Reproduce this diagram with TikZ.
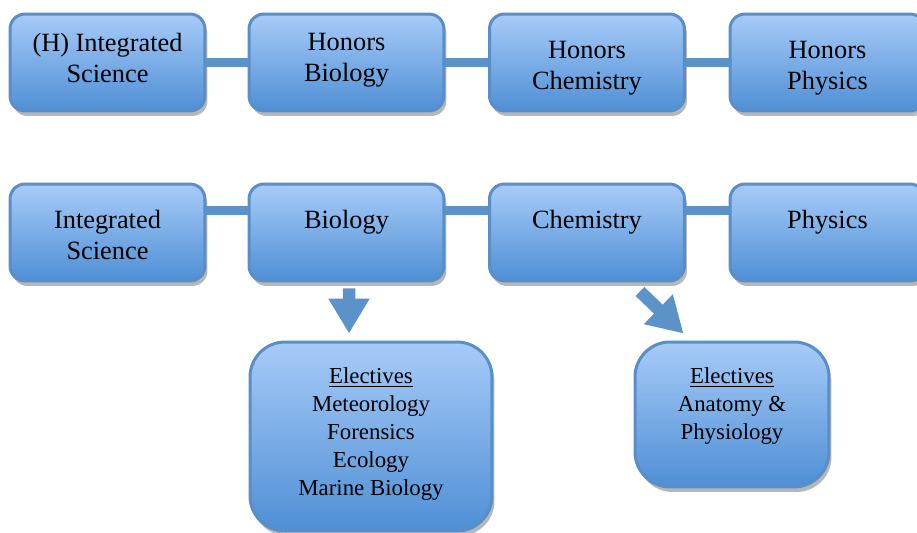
\documentclass[tikz,border=0pt]{standalone}
\usepackage{fontspec}
\setmainfont{Liberation Serif}
\usetikzlibrary{positioning,arrows.meta,shadows}

\definecolor{boxtop}{HTML}{A7CBF8}
\definecolor{boxbot}{HTML}{4F8FD5}
\definecolor{boxline}{HTML}{5A8EC6}
\definecolor{linkblue}{HTML}{5B93C8}

\tikzset{
  course/.style={rectangle, rounded corners=0.3cm, draw=boxline, line width=0.06cm,
    top color=boxtop, bottom color=boxbot, minimum width=3.9cm, minimum height=1.94cm,
    drop shadow={shadow xshift=0.05cm, shadow yshift=-0.1cm, opacity=0.4, fill=black!70}},
  elective/.style={course, rounded corners=0.7cm},
  coursetext/.style={inner sep=0pt, align=center, font=\fontsize{15}{17.6}\selectfont},
  electext/.style={inner sep=0pt, align=center, font=\fontsize{13}{15.9}\selectfont},
  link/.style={draw=linkblue, line width=0.17cm},
  blockarrow/.style={draw=linkblue, line width=0.25cm, -{Triangle[width=0.78cm,length=0.7cm]}}
}

\begin{document}
\begin{tikzpicture}[x=0.02cm, y=-0.02cm]
\def\xa{107.5};
\def\xb{346.5};
\def\xc{587};
\def\xd{827.5};

\def\ytop{62.5};
\def\ymid{232.5};

\useasboundingbox (0,0) rectangle (917,533);

% honors track
\node[course] (hints) at (\xa, \ytop) {};
\node[course] (hbio) at (\xb, \ytop) {};
\node[course] (hchem) at (\xc, \ytop) {};
\node[course] (hphys) at (\xd, \ytop) {};

\draw[link] (hints.east) -- (hbio.west);
\draw[link] (hbio.east) -- (hchem.west);
\draw[link] (hchem.east) -- (hphys.west);

\node[coursetext, below=0.4cm of hints.north] (hintst) {(H) Integrated\\Science};
\node[coursetext, below=0.4cm of hbio.north] (hbiot) {Honors\\Biology};
\node[coursetext, below=0.57cm of hchem.north] (hchemt) {Honors\\Chemistry};
\node[coursetext, below=0.57cm of hphys.north] (hphyst) {Honors\\Physics};

% regular track
\node[course] (ints) at (\xa, \ymid) {};
\node[course] (bio) at (\xb, \ymid) {};
\node[course] (chem) at (\xc, \ymid) {};
\node[course] (phys) at (\xd, \ymid) {};

\draw[link] ([yshift=-0.56cm]ints.north east) -- ([yshift=-0.56cm]bio.north west);
\draw[link] ([yshift=-0.56cm]bio.north east) -- ([yshift=-0.56cm]chem.north west);
\draw[link] ([yshift=-0.56cm]chem.north east) -- ([yshift=-0.56cm]phys.north west);

\node[coursetext, below=0.54cm of ints.north] (intst) {Integrated\\Science};
\node[coursetext, below=0.54cm of bio.north] (biot) {Biology};
\node[coursetext, below=0.54cm of chem.north] (chemt) {Chemistry};
\node[coursetext, below=0.54cm of phys.north] (physt) {Physics};

% electives
\node[elective, minimum width=4.84cm, minimum height=3.78cm] (eleca) at (371, 436.5) {};
\node[elective, minimum width=3.88cm, minimum height=2.9cm] (elecb) at (732, 414.5) {};

\node[electext, below=0.54cm of eleca.north] (elecat) {\underline{Electives}\\Meteorology\\Forensics\\Ecology\\Marine Biology};
\node[electext, below=0.54cm of elecb.north] (elecbt) {\underline{Electives}\\Anatomy \&\\Physiology};

\draw[blockarrow] ([xshift=0.05cm, yshift=-0.12cm]bio.south) -- ([xshift=-0.44cm, yshift=0.14cm]eleca.north);
\draw[blockarrow] ([xshift=-0.92cm, yshift=-0.18cm]chem.south east) -- ([xshift=1.0cm, yshift=0.14cm]elecb.north west);

\end{tikzpicture}
\end{document}
